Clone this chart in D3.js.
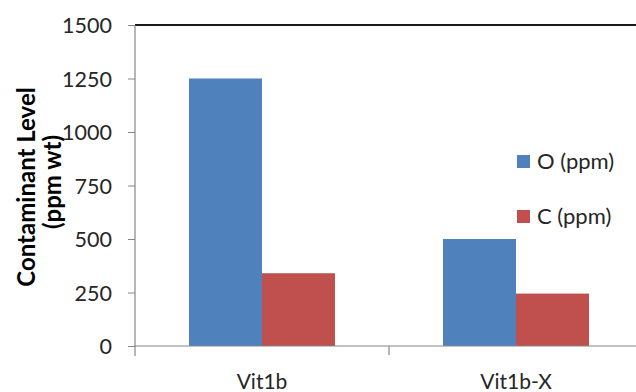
<!DOCTYPE html>
<html>
<head>
<meta charset="utf-8">
<script src="https://cdn.jsdelivr.net/npm/d3@7/dist/d3.min.js"></script>
<style>
  html, body { margin: 0; padding: 0; background: #fff; }
  svg { display: block; }
  text { font-family: Lato, "Open Sans", sans-serif; fill: #262626; }
</style>
</head>
<body>
<svg id="chart" width="636" height="392"></svg>
<script>
// Contaminant levels per alloy batch
const categories = ["Vit1b", "Vit1b-X"];
const seriesNames = ["O (ppm)", "C (ppm)"];
const oxygenPpm = [1250, 500];
const carbonPpm = [340, 245];
const yTicks = [0, 250, 500, 750, 1000, 1250, 1500];
const seriesColors = ["#4F81BD", "#C0504D"];

const seriesValues = [oxygenPpm, carbonPpm];
const rows = categories.map((c, i) => ({
  category: c,
  values: seriesNames.map((s, j) => ({ series: s, value: seriesValues[j][i], color: seriesColors[j] }))
}));

const svg = d3.select("#chart");
const plotLeft = 135, plotRight = 643, plotTop = 25, plotBottom = 346;

const x0 = d3.scaleBand().domain(categories).range([plotLeft, plotRight]).paddingInner(0).paddingOuter(0);
const x1 = d3.scaleBand().domain(seriesNames).range([0, x0.bandwidth()]).paddingInner(0).paddingOuter(0.74);
const y = d3.scaleLinear().domain([0, 1500]).range([plotBottom, plotTop]);

// Top border of the plot area
svg.append("line")
  .attr("x1", plotLeft).attr("x2", 636)
  .attr("y1", y(1500)).attr("y2", y(1500))
  .attr("stroke", "#1a1a1a").attr("stroke-width", 2);

// Bars
const groups = svg.append("g").selectAll("g")
  .data(rows).join("g")
  .attr("transform", d => `translate(${x0(d.category)},0)`);
groups.selectAll("rect")
  .data(d => d.values).join("rect")
  .attr("x", d => x1(d.series))
  .attr("width", x1.bandwidth())
  .attr("y", d => y(d.value))
  .attr("height", d => y(0) - y(d.value))
  .attr("fill", d => d.color);

// Y axis
const yAxis = svg.append("g")
  .attr("transform", `translate(${plotLeft},0)`)
  .call(d3.axisLeft(y).tickValues(yTicks).tickSize(7).tickPadding(16).tickFormat(d3.format("d")));
yAxis.select(".domain").remove();
yAxis.selectAll(".tick line").attr("stroke", "#868686");
yAxis.selectAll(".tick text")
  .attr("font-size", 21.5).attr("fill", "#262626")
  .attr("dy", "0.36em")
  .style("font-family", "Lato, 'Open Sans', sans-serif");
yAxis.append("line")
  .attr("x1", 0).attr("x2", 0)
  .attr("y1", plotTop).attr("y2", plotBottom + 10)
  .attr("stroke", "#868686").attr("stroke-width", 1.2);

// X axis
const xAxis = svg.append("g");
xAxis.append("line")
  .attr("x1", plotLeft).attr("x2", 636)
  .attr("y1", plotBottom).attr("y2", plotBottom)
  .attr("stroke", "#868686").attr("stroke-width", 1.2);
xAxis.selectAll("line.sep")
  .data(categories.slice(1)).join("line")
  .attr("class", "sep")
  .attr("x1", d => x0(d)).attr("x2", d => x0(d))
  .attr("y1", plotBottom).attr("y2", plotBottom + 9)
  .attr("stroke", "#868686").attr("stroke-width", 1.2);
xAxis.selectAll("text")
  .data(categories).join("text")
  .attr("x", d => x0(d) + x0.bandwidth() / 2)
  .attr("y", 389)
  .attr("text-anchor", "middle")
  .attr("font-size", 21)
  .text(d => d);

// Y axis title, two lines
const titleLines = [
  { text: "Contaminant Level", x: 35, y: 187 },
  { text: "(ppm wt)", x: 61, y: 182 }
];
svg.append("g").selectAll("text")
  .data(titleLines).join("text")
  .attr("transform", d => `translate(${d.x},${d.y}) rotate(-90)`)
  .attr("text-anchor", "middle")
  .attr("font-size", 24)
  .attr("font-weight", "bold")
  .style("fill", "#000")
  .text(d => d.text);

// Legend
const legend = svg.append("g").selectAll("g")
  .data(seriesNames).join("g")
  .attr("transform", (d, i) => `translate(517,${155 + i * 55})`);
legend.append("rect")
  .attr("width", 13).attr("height", 13)
  .attr("fill", (d, i) => seriesColors[i]);
legend.append("text")
  .attr("x", 20).attr("y", 13.5)
  .attr("font-size", 22)
  .text(d => d);
</script>
</body>
</html>
